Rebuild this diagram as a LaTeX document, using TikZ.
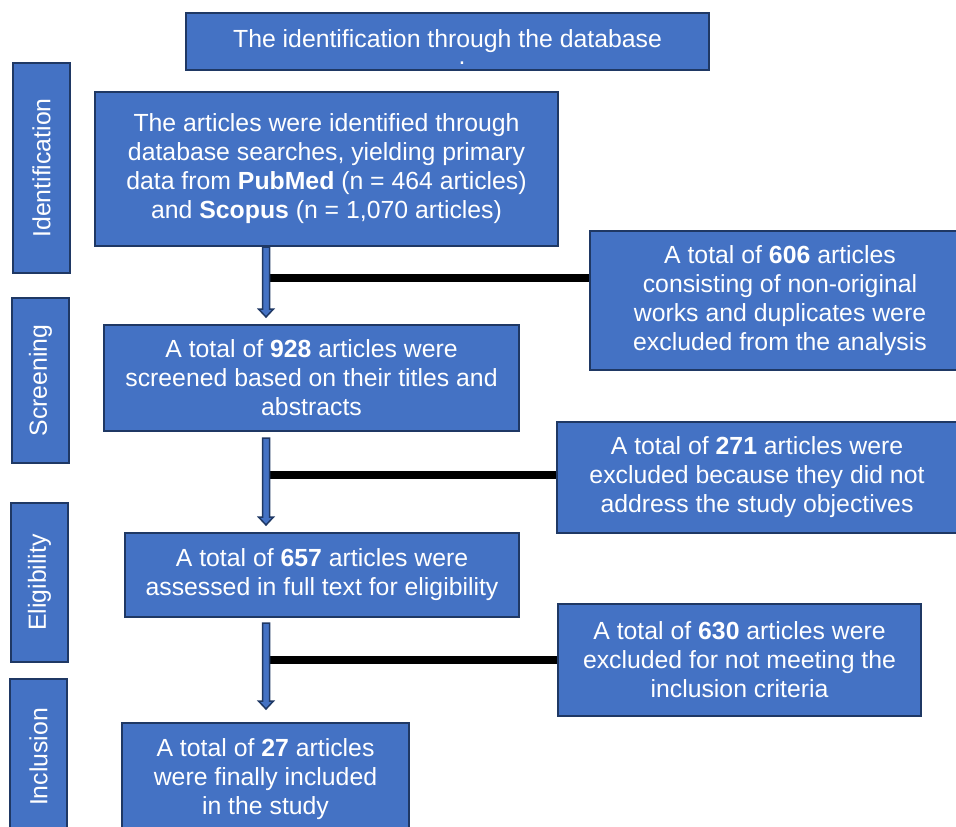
\documentclass[tikz,border=0pt]{standalone}
\usepackage{fontspec}
\setmainfont{Liberation Sans}
\usetikzlibrary{calc}
\definecolor{boxblue}{HTML}{4472C4}
\definecolor{navy}{HTML}{1F3864}
\begin{document}
\begin{tikzpicture}[x=1pt,y=-1pt,
  box/.style={draw=navy, line width=2pt, fill=boxblue, text=white, align=center,
    inner sep=0pt, font=\fontsize{24.8}{29}\selectfont},
  side/.style={box, rotate=90},
  bar/.style={line width=8pt, black},
  blockarrow/.style={draw=navy, line width=1.5pt, fill=boxblue, line join=miter}]
\useasboundingbox (0,0) rectangle (956,827);
% phase labels
\node[side, minimum width=210, minimum height=57] (pid) at (41.5,168) {Identification};
\node[side, minimum width=165, minimum height=57] (psc) at (40.5,380.5) {Screening};
\node[side, minimum width=159, minimum height=57] (pel) at (39.5,582.5) {Eligibility};
\node[side, minimum width=156, minimum height=57] (pin) at (38.5,757) {Inclusion};
% title
\node[box, minimum width=523, minimum height=57] (title) at (447.5,41.5) {The identification through the database};
\node[text=white, inner sep=0pt, anchor=base, font=\fontsize{24.8}{29}\selectfont] (dot) at (462,64) {.};
% main boxes
\node[box, minimum width=463, minimum height=154] (b1) at (326.5,169)
  {The articles were identified through\\database searches, yielding primary\\data from \textbf{PubMed} (n = 464 articles)\\and \textbf{Scopus} (n = 1,070 articles)};
\node[box, minimum width=415, minimum height=106] (b2) at (311.5,378)
  {A total of \textbf{928} articles were\\screened based on their titles and\\abstracts};
\node[box, minimum width=394, minimum height=84] (b3) at (322,575)
  {A total of \textbf{657} articles were\\assessed in full text for eligibility};
\node[box, minimum width=287, minimum height=112] (b4) at (265.5,779)
  {A total of \textbf{27} articles\\were finally included\\in the study};
% exclusion boxes
\node[box, minimum width=380, minimum height=139] (e1) at (780,300.5)
  {A total of \textbf{606} articles\\consisting of non-original\\works and duplicates were\\excluded from the analysis};
\node[box, minimum width=400, minimum height=111] (e2) at (757,477.5)
  {A total of \textbf{271} articles were\\excluded because they did not\\address the study objectives};
\node[box, minimum width=363, minimum height=112] (e3) at (739.5,660)
  {A total of \textbf{630} articles were\\excluded for not meeting the\\inclusion criteria};
% arrow geometry
\coordinate (ax) at (266,0);
\coordinate (s1) at (ax |- b1.south);
\coordinate (t1) at ($(ax |- b2.north)+(0,-7)$);
\coordinate (s2) at ($(ax |- b2.south)+(0,6)$);
\coordinate (t2) at ($(ax |- b3.north)+(0,-7)$);
\coordinate (s3) at ($(ax |- b3.south)+(0,5)$);
\coordinate (t3) at ($(ax |- b4.north)+(0,-13)$);
\coordinate (h1) at (266,278);
\coordinate (h2) at (266,475);
\coordinate (h3) at (266,660);
% exclusion bars
\draw[bar] (h1) -- (h1 -| e1.west);
\draw[bar] (h2) -- (h2 -| e2.west);
\draw[bar] (h3) -- (h3 -| e3.west);
% block arrows
\foreach \s/\t in {s1/t1, s2/t2, s3/t3}{
  \draw[blockarrow] ($(\s)+(-3.5,0)$) -- ($(\t)+(-3.5,-8)$) -- ($(\t)+(-7.5,-8)$) -- (\t)
    -- ($(\t)+(7.5,-8)$) -- ($(\t)+(3.5,-8)$) -- ($(\s)+(3.5,0)$) -- cycle;
}
\end{tikzpicture}
\end{document}
